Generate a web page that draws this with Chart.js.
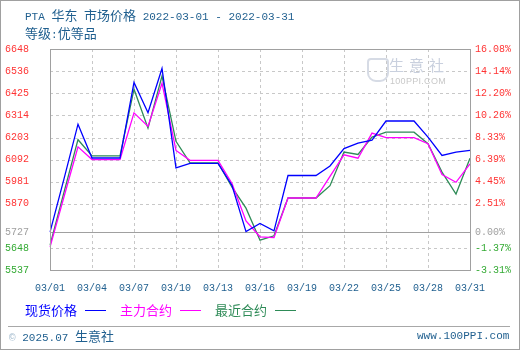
<!DOCTYPE html>
<html><head><meta charset="utf-8">
<script src="https://cdn.jsdelivr.net/npm/chart.js@4.4.1/dist/chart.umd.min.js"></script>
<style>
html,body{margin:0;padding:0;background:#fff;}
#wrap{position:relative;width:520px;height:350px;overflow:hidden;background:#fff;}
#frame{position:absolute;left:0;top:0;width:518px;height:348px;border:1px solid #a0a0a0;pointer-events:none;}
canvas{position:absolute;left:0;top:0;}
.t{position:absolute;white-space:nowrap;font-family:"Liberation Mono","Noto Sans CJK SC",monospace;font-size:11px;color:#1f5f8f;line-height:14px;}
.c{font-family:"Noto Sans CJK SC",sans-serif;font-size:13px;}
.lg{position:absolute;top:302px;white-space:nowrap;font-family:"Noto Sans CJK SC",sans-serif;font-size:13px;line-height:16px;}
.ln{display:inline-block;width:21px;height:1px;vertical-align:middle;margin-left:8px;position:relative;top:-1px;}
#sep{position:absolute;left:8px;top:326px;width:502px;height:1px;background:#a8a8a8;}
#wm1{position:absolute;left:389px;top:56px;font-family:"Noto Sans CJK SC",sans-serif;font-size:15px;letter-spacing:5px;color:#c9d0de;line-height:18px;}
#wm2{position:absolute;left:390px;top:76px;font-family:"Liberation Sans",sans-serif;font-size:9px;color:#c8c8c8;line-height:10px;letter-spacing:0.3px;}
#wmi{position:absolute;left:367px;top:58px;width:18px;height:20px;border:2px solid #d6dbe5;border-radius:4px 4px 9px 9px;}
</style></head>
<body>
<div id="wrap">
<canvas id="c" width="520" height="350"></canvas>
<div id="wmi"></div>
<div id="wm1">生意社</div>
<div id="wm2">100PPI.COM</div>
<div class="t" style="left:25px;top:8px;">PTA <span class="c">华东</span> <span class="c">市场价格</span> 2022-03-01 - 2022-03-31</div>
<div class="t" style="left:25px;top:26px;"><span class="c">等级</span>:<span class="c">优等品</span></div>
<div class="lg" style="left:25px;color:#0000ff;">现货价格<span class="ln" style="background:#0000ff"></span></div>
<div class="lg" style="left:120px;color:#ff00ff;">主力合约<span class="ln" style="background:#ff00ff"></span></div>
<div class="lg" style="left:215px;color:#2e8b57;">最近合约<span class="ln" style="background:#2e8b57"></span></div>
<div id="sep"></div>
<div class="t" style="left:9px;top:329px;"><span style="color:#9fb8cc">©</span> 2025.07 <span class="c">生意社</span></div>
<div class="t" style="left:417px;top:329px;">www.100PPI.com</div>
<div id="frame"></div>
</div>
<script>
const dates = ['03/01','03/02','03/03','03/04','03/05','03/06','03/07','03/08','03/09','03/10',
  '03/11','03/12','03/13','03/14','03/15','03/16','03/17','03/18','03/19','03/20',
  '03/21','03/22','03/23','03/24','03/25','03/26','03/27','03/28','03/29','03/30','03/31'];
const spotPrice = [5727,5995,6270,6100,6100,6100,6480,6328,6550,6050,
  6073,6073,6073,5962,5730,5771,5734,6012,6012,6012,
  6060,6147,6175,6190,6286,6286,6286,6205,6113,6130,6138];
const mainContract = [5652,5905,6156,6092,6092,6092,6327,6259,6476,6138,
  6088,6088,6088,5972,5784,5704,5700,5899,5899,5899,
  6008,6116,6099,6225,6202,6202,6202,6172,6017,5978,6071];
const nearContract = [5662,5928,6192,6111,6111,6111,6446,6250,6512,6184,
  6076,6076,6076,5954,5848,5687,5709,5899,5899,5899,
  5961,6130,6118,6205,6230,6230,6230,6172,6029,5919,6099];
const basePrice = 5727;
const leftTicks = [6648,6536,6425,6314,6203,6092,5981,5870,5727,5648,5537];
const rightTickLabels = ['16.08%','14.14%','12.20%','10.26%','8.33%','6.39%','4.45%','2.51%','0.00%','-1.37%','-3.31%'];

const tickColor = (c) => {
  const v = c.tick ? c.tick.value : 0;
  return v > basePrice ? '#ff3333' : (v === basePrice ? '#a0a0a0' : '#33aa33');
};

const gridPlugin = {
  id: 'customGrid',
  beforeDatasetsDraw(chart) {
    const {ctx, chartArea: a, scales: {x, y}} = chart;
    ctx.save();
    ctx.lineWidth = 1;
    ctx.strokeStyle = '#c8c8c8';
    ctx.setLineDash([3, 3]);
    leftTicks.forEach(v => {
      if (v === basePrice) return;
      const py = Math.round(y.getPixelForValue(v)) + 0.5;
      ctx.beginPath(); ctx.moveTo(a.left, py); ctx.lineTo(a.right, py); ctx.stroke();
    });
    dates.forEach((d, i) => {
      if (i % 3) return;
      const px = Math.round(x.getPixelForValue(i)) + 0.5;
      ctx.beginPath(); ctx.moveTo(px, a.top); ctx.lineTo(px, a.bottom); ctx.stroke();
    });
    ctx.setLineDash([]);
    ctx.strokeStyle = '#a0a0a0';
    const by = Math.round(y.getPixelForValue(basePrice)) + 0.5;
    ctx.beginPath(); ctx.moveTo(a.left, by); ctx.lineTo(a.right, by); ctx.stroke();
    ctx.restore();
  },
  afterDatasetsDraw(chart) {
    const {ctx, chartArea: a} = chart;
    ctx.save();
    ctx.strokeStyle = '#a0a0a0';
    ctx.lineWidth = 1;
    ctx.strokeRect(Math.round(a.left) + 0.5, Math.round(a.top) + 0.5,
      Math.round(a.right) - Math.round(a.left), Math.round(a.bottom) - Math.round(a.top));
    ctx.restore();
  }
};

const monoFont = {family: '"Liberation Mono", monospace', size: 10};
const mkLine = (label, data, color) => ({
  label, data, borderColor: color, backgroundColor: color,
  borderWidth: 1.3, pointRadius: 0, tension: 0, fill: false, yAxisID: 'y'
});
const noGrid = {display: false, drawTicks: false, tickLength: 0};

new Chart(document.getElementById('c'), {
  type: 'line',
  data: {
    labels: dates,
    datasets: [
      mkLine('现货价格', spotPrice, '#0000ff'),
      mkLine('主力合约', mainContract, '#ff00ff'),
      mkLine('最近合约', nearContract, '#2e8b57')
    ]
  },
  options: {
    responsive: false,
    animation: false,
    devicePixelRatio: 1,
    layout: {padding: {top: 49, left: 0, right: 0, bottom: 0}},
    plugins: {legend: {display: false}, tooltip: {enabled: false}, title: {display: false}},
    scales: {
      x: {
        type: 'category', offset: false,
        grid: noGrid, border: {display: false},
        ticks: {autoSkip: false, maxRotation: 0, minRotation: 0, padding: 12, color: '#1f5f8f', font: monoFont,
          callback: (v, i) => (i % 3 === 0 ? dates[i] : '')},
        afterFit: s => { s.height = 80; }
      },
      y: {
        position: 'left', min: 5537, max: 6648,
        afterBuildTicks: s => { s.ticks = leftTicks.map(v => ({value: v})); },
        grid: noGrid, border: {display: false},
        ticks: {padding: 21, color: tickColor, font: monoFont, callback: v => String(v)},
        afterFit: s => { s.width = 50; }
      },
      y2: {
        position: 'right', min: 5537, max: 6648,
        afterBuildTicks: s => { s.ticks = leftTicks.map(v => ({value: v})); },
        grid: noGrid, border: {display: false},
        ticks: {padding: 5, color: tickColor, font: monoFont, callback: (v, i) => rightTickLabels[i]},
        afterFit: s => { s.width = 50; }
      }
    }
  },
  plugins: [gridPlugin]
});
</script>
</body></html>
